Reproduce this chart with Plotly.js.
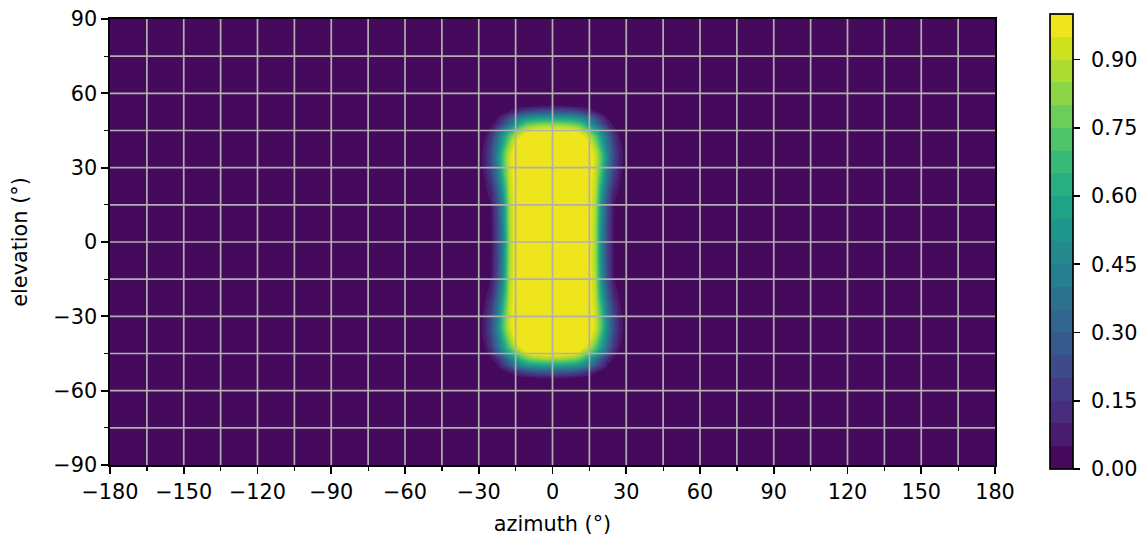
<!DOCTYPE html>
<html>
<head>
<meta charset="utf-8">
<script src="https://cdn.plot.ly/plotly-3.0.1.min.js"></script>
<style>
html,body{margin:0;padding:0;background:#ffffff;}
#chart{width:1144px;height:538px;}
</style>
</head>
<body>
<div id="chart"></div>
<script>
// ---- data ----
const azimuth = [-180, -35, -30, -27.5, -25, -22.5, -20, -17.5, -15, -12.5, -10, -5, 0,
                 5, 10, 12.5, 15, 17.5, 20, 22.5, 25, 27.5, 30, 35, 180];
const elevation = [-90, -60, -57.5, -55, -52.5, -50, -47.5, -45, -42.5, -40, -35, -30, -25, -20, -15, -10, -5,
                   0, 5, 10, 15, 20, 25, 30, 35, 40, 42.5, 45, 47.5, 50, 52.5, 55, 57.5, 60, 90];
// one row per elevation (bottom to top), one column per azimuth (left to right)
const intensity = [
  [0,0,0,0,0,0,0,0,0,0,0,0, 0, 0,0,0,0,0,0,0,0,0,0,0,0],                               // -90
  [0,0,0,0,0,0,0,0,0,0,0,0, 0, 0,0,0,0,0,0,0,0,0,0,0,0],                               // -60
  [0,0,0,0,0,0,0,0,0,0,0,0, 0, 0,0,0,0,0,0,0,0,0,0,0,0],                               // -57.5
  [0,0,0,0,0,0,0,0,0,0.01,0.02,0.04, 0.05, 0.04,0.02,0.01,0,0,0,0,0,0,0,0,0],          // -55
  [0,0,0,0,0,0,0.01,0.06,0.12,0.18,0.22,0.26, 0.27, 0.26,0.22,0.18,0.12,0.06,0.01,0,0,0,0,0,0], // -52.5
  [0,0,0,0,0,0.04,0.14,0.26,0.38,0.47,0.52,0.55, 0.56, 0.55,0.52,0.47,0.38,0.26,0.14,0.04,0,0,0,0,0], // -50
  [0,0,0,0,0.03,0.1,0.23,0.38,0.52,0.66,0.75,0.81, 0.82, 0.81,0.75,0.66,0.52,0.38,0.23,0.1,0.03,0,0,0,0], // -47.5
  [0,0,0,0.01,0.08,0.25,0.43,0.6,0.74,0.86,0.95,1, 1, 1,0.95,0.86,0.74,0.6,0.43,0.25,0.08,0.01,0,0,0], // -45
  [0,0,0,0.04,0.15,0.34,0.55,0.74,0.9,0.97,1,1, 1, 1,1,0.97,0.9,0.74,0.55,0.34,0.15,0.04,0,0,0],     // -42.5
  [0,0,0.01,0.06,0.18,0.37,0.6,0.82,0.97,1,1,1, 1, 1,1,1,0.97,0.82,0.6,0.37,0.18,0.06,0.01,0,0],     // -40
  [0,0,0.01,0.08,0.22,0.45,0.72,0.93,1,1,1,1, 1, 1,1,1,1,0.93,0.72,0.45,0.22,0.08,0.01,0,0],         // -35
  [0,0,0.01,0.07,0.2,0.41,0.7,0.93,1,1,1,1, 1, 1,1,1,1,0.93,0.7,0.41,0.2,0.07,0.01,0,0],             // -30
  [0,0,0,0.05,0.15,0.35,0.63,0.91,1,1,1,1, 1, 1,1,1,1,0.91,0.63,0.35,0.15,0.05,0,0,0],               // -25
  [0,0,0,0.02,0.09,0.27,0.55,0.89,1,1,1,1, 1, 1,1,1,1,0.89,0.55,0.27,0.09,0.02,0,0,0],               // -20
  [0,0,0,0.01,0.05,0.23,0.5,0.88,1,1,1,1, 1, 1,1,1,1,0.88,0.5,0.23,0.05,0.01,0,0,0],                 // -15
  [0,0,0,0,0.04,0.21,0.48,0.87,1,1,1,1, 1, 1,1,1,1,0.87,0.48,0.21,0.04,0,0,0,0],                     // -10
  [0,0,0,0,0.03,0.2,0.46,0.86,1,1,1,1, 1, 1,1,1,1,0.86,0.46,0.2,0.03,0,0,0,0],                       // -5
  [0,0,0,0,0.03,0.2,0.45,0.86,1,1,1,1, 1, 1,1,1,1,0.86,0.45,0.2,0.03,0,0,0,0],                       // 0
  [0,0,0,0,0.03,0.2,0.46,0.86,1,1,1,1, 1, 1,1,1,1,0.86,0.46,0.2,0.03,0,0,0,0],                       // 5
  [0,0,0,0,0.04,0.21,0.48,0.87,1,1,1,1, 1, 1,1,1,1,0.87,0.48,0.21,0.04,0,0,0,0],                     // 10
  [0,0,0,0.01,0.05,0.23,0.5,0.88,1,1,1,1, 1, 1,1,1,1,0.88,0.5,0.23,0.05,0.01,0,0,0],                 // 15
  [0,0,0,0.02,0.09,0.27,0.55,0.89,1,1,1,1, 1, 1,1,1,1,0.89,0.55,0.27,0.09,0.02,0,0,0],               // 20
  [0,0,0,0.05,0.15,0.35,0.63,0.91,1,1,1,1, 1, 1,1,1,1,0.91,0.63,0.35,0.15,0.05,0,0,0],               // 25
  [0,0,0.01,0.07,0.2,0.41,0.7,0.93,1,1,1,1, 1, 1,1,1,1,0.93,0.7,0.41,0.2,0.07,0.01,0,0],             // 30
  [0,0,0.01,0.08,0.22,0.45,0.72,0.93,1,1,1,1, 1, 1,1,1,1,0.93,0.72,0.45,0.22,0.08,0.01,0,0],         // 35
  [0,0,0.01,0.06,0.18,0.37,0.6,0.82,0.97,1,1,1, 1, 1,1,1,0.97,0.82,0.6,0.37,0.18,0.06,0.01,0,0],     // 40
  [0,0,0,0.04,0.15,0.34,0.55,0.74,0.9,0.97,1,1, 1, 1,1,0.97,0.9,0.74,0.55,0.34,0.15,0.04,0,0,0],     // 42.5
  [0,0,0,0.01,0.08,0.25,0.43,0.6,0.74,0.86,0.95,1, 1, 1,0.95,0.86,0.74,0.6,0.43,0.25,0.08,0.01,0,0,0], // 45
  [0,0,0,0,0.03,0.1,0.23,0.38,0.52,0.66,0.75,0.81, 0.82, 0.81,0.75,0.66,0.52,0.38,0.23,0.1,0.03,0,0,0,0], // 47.5
  [0,0,0,0,0,0.04,0.14,0.26,0.38,0.47,0.52,0.55, 0.56, 0.55,0.52,0.47,0.38,0.26,0.14,0.04,0,0,0,0,0], // 50
  [0,0,0,0,0,0,0.01,0.06,0.12,0.18,0.22,0.26, 0.27, 0.26,0.22,0.18,0.12,0.06,0.01,0,0,0,0,0,0], // 52.5
  [0,0,0,0,0,0,0,0,0,0.01,0.02,0.04, 0.05, 0.04,0.02,0.01,0,0,0,0,0,0,0,0,0],          // 55
  [0,0,0,0,0,0,0,0,0,0,0,0, 0, 0,0,0,0,0,0,0,0,0,0,0,0],                               // 57.5
  [0,0,0,0,0,0,0,0,0,0,0,0, 0, 0,0,0,0,0,0,0,0,0,0,0,0],                               // 60
  [0,0,0,0,0,0,0,0,0,0,0,0, 0, 0,0,0,0,0,0,0,0,0,0,0,0]                                // 90
];
const xTickVals = [-180, -150, -120, -90, -60, -30, 0, 30, 60, 90, 120, 150, 180];
const yTickVals = [-90, -60, -30, 0, 30, 60, 90];
const cbTickVals = [0, 0.15, 0.30, 0.45, 0.60, 0.75, 0.90];
// viridis colours of the 20 filled bands (0.00-0.05 ... 0.95-1.00)
const bandColors = ['#460a5d','#481c6e','#472d7b','#443b84','#3e4a89','#38598c','#31668e',
  '#2c728e','#277e8e','#238a8d','#1f968b','#1fa287','#28ae80','#38b977','#50c46a','#6ccd5a',
  '#8bd646','#addc30','#cde11d','#efe51c'];

// ---- drawing ----
const FONT = 'DejaVu Sans, sans-serif';
const FS = 20.8;
const nB = bandColors.length;
// contour fill: band k is evaluated at k/(nB-1)
const contourScale = bandColors.map((c, i) => [i / (nB - 1), c]);
// stepped scale for the colour bar (0..1, one flat step per band)
const stepScale = [];
bandColors.forEach((c, i) => { stepScale.push([i / nB, c]); stepScale.push([(i + 1) / nB, c]); });

// heatmap of the same data, hidden under the filled contours, carries the colour bar
const barTrace = {
  type: 'heatmap',
  x: azimuth, y: elevation, z: intensity,
  zmin: 0, zmax: 1,
  colorscale: stepScale,
  hoverinfo: 'skip',
  showscale: true,
  colorbar: {
    tickmode: 'array',
    tickvals: cbTickVals,
    ticktext: cbTickVals.map(v => '\u00a0' + v.toFixed(2)),
    ticks: 'outside', ticklen: 7, tickwidth: 1.7, tickcolor: '#000',
    tickfont: {family: FONT, size: FS, color: '#000'},
    outlinewidth: 1.7, outlinecolor: '#000',
    thickness: 23, thicknessmode: 'pixels',
    len: 455, lenmode: 'pixels',
    x: (1050 - 110) / 885, xanchor: 'left', xpad: 0,
    y: 0.501, yanchor: 'middle', ypad: 0
  }
};

const contourTrace = {
  type: 'contour',
  x: azimuth, y: elevation, z: intensity,
  colorscale: contourScale,
  contours: {start: 0.05, end: 0.95, size: 0.05, coloring: 'fill', showlines: false},
  line: {width: 0, smoothing: 1.0},
  hoverinfo: 'skip',
  showscale: false
};

// grid lines drawn above the filled contours (every 15 degrees)
const shapes = [];
for (let v = -165; v <= 165; v += 15) {
  shapes.push({type: 'line', xref: 'x', yref: 'paper', x0: v, x1: v, y0: 0, y1: 1,
               layer: 'above', line: {color: '#b0b0b0', width: 1.7}});
}
for (let v = -75; v <= 75; v += 15) {
  shapes.push({type: 'line', xref: 'paper', yref: 'y', x0: 0, x1: 1, y0: v, y1: v,
               layer: 'above', line: {color: '#b0b0b0', width: 1.7}});
}

const axisCommon = {
  tickmode: 'array',
  ticks: 'outside', ticklen: 7, tickwidth: 1.7, tickcolor: '#000',
  showline: true, mirror: true, linecolor: '#000', linewidth: 1.7,
  showgrid: false, zeroline: false,
  tickfont: {family: FONT, size: FS, color: '#000'},
  minor: {dtick: 15, tick0: 0, ticks: 'outside', ticklen: 4, tickwidth: 1.25, tickcolor: '#000', showgrid: false}
};

const layout = {
  width: 1144, height: 538,
  margin: {l: 110, r: 149, t: 19, b: 73, autoexpand: false},
  paper_bgcolor: '#ffffff', plot_bgcolor: '#ffffff',
  font: {family: FONT, size: FS, color: '#000'},
  showlegend: false,
  xaxis: Object.assign({}, axisCommon, {
    range: [-180, 180], tickvals: xTickVals,
    title: {text: 'azimuth (°)', font: {family: FONT, size: FS, color: '#000'}, standoff: 14}
  }),
  yaxis: Object.assign({}, axisCommon, {
    range: [-90, 90], tickvals: yTickVals,
    title: {text: 'elevation (°)', font: {family: FONT, size: FS, color: '#000'}, standoff: 20}
  }),
  shapes: shapes
};

Plotly.newPlot('chart', [barTrace, contourTrace], layout, {displayModeBar: false, staticPlot: true});
</script>
</body>
</html>
